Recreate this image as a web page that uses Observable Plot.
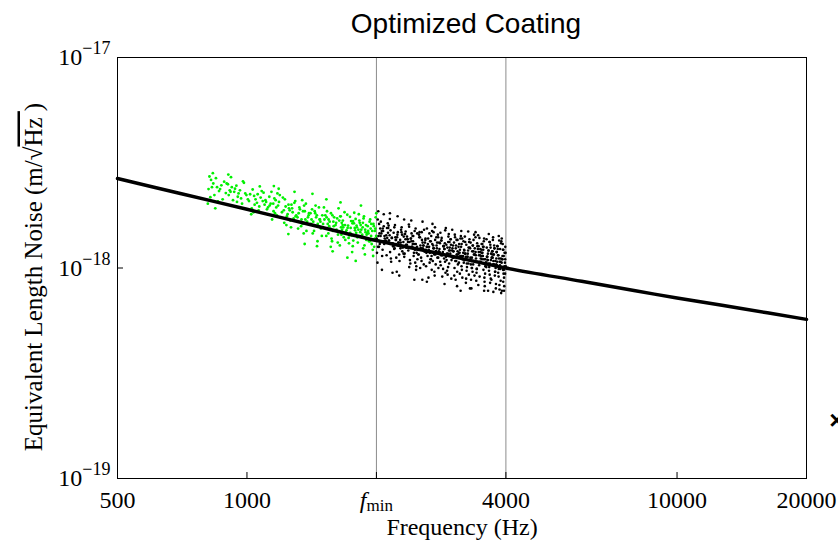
<!DOCTYPE html>
<html><head><meta charset="utf-8">
<script src="https://cdn.jsdelivr.net/npm/d3@7"></script>
<script src="https://cdn.jsdelivr.net/npm/@observablehq/plot@0.6"></script>
<style>body{margin:0;background:#fff}</style>
</head><body><div id="chart"></div>
<script>
// ---- data (noise values in units of 1e-18 m/sqrt(Hz)) ----
const title = "Optimized Coating";
const xLabel = "Frequency (Hz)";
const xTicks = [500, 1000, 2000, 4000, 10000, 20000];
const xTickLabels = ["500", "1000", "fmin", "4000", "10000", "20000"];
const yTicks = [1e-19, 1e-18, 1e-17];
const yExponents = ["−19", "−18", "−17"];
const markerLines = [2000, 4000];

const curveFreq  = [500, 700, 1000, 1400, 2000, 2800, 4000, 6000, 8000, 10000, 14000, 20000];
const curveNoise = [2.66, 2.26, 1.90, 1.61, 1.35, 1.17, 1.00, 0.865, 0.78, 0.72, 0.644, 0.57];

const greenPts = [
[814,2.37],[835,2.52],[822,2.17],[861,2.32],[847,2.67],[818,2.72],[893,2.27],[856,2.07],[829,2.42],[872,2.47],[840,2.22],[885,2.57],[811,2.02],[866,2.37],[833,2.82],[897,2.52],[852,2.42],[878,2.12],[825,2.62],[844,1.92],
[907,2.22],[963,2.34],[928,2.10],[991,2.26],[945,2.46],[916,2.30],[974,2.02],[938,2.38],[952,2.18],[984,2.54],[922,2.42],[959,1.94],[903,2.50],[969,2.14],[934,2.30],[997,2.22],[948,2.06],[912,2.34],[979,2.58],[956,2.26],
[1005,2.12],[1042,2.00],[1017,2.24],[1088,2.08],[1064,1.88],[1031,2.36],[1076,2.16],[1023,1.80],[1055,2.04],[1093,2.28],[1039,2.20],[1068,1.96],[1011,2.08],[1082,2.32],[1047,2.12],[1026,1.92],[1059,2.24],[1099,2.00],[1071,2.44],[1036,1.84],
[1108,2.06],[1153,1.86],[1127,2.18],[1181,1.98],[1144,1.70],[1166,2.10],[1119,1.94],[1192,2.22],[1135,2.02],[1174,1.78],[1158,2.14],[1113,1.90],[1187,2.06],[1140,2.30],[1162,1.82],[1129,1.98],[1196,1.74],[1151,2.02],[1177,2.26],[1104,2.10],[1170,1.94],
[1206,1.84],[1249,2.00],[1221,1.64],[1273,1.92],[1238,1.76],[1295,2.08],[1257,1.88],[1212,2.16],[1284,1.72],[1230,1.96],[1266,1.56],[1243,1.80],[1289,2.04],[1218,1.88],[1261,1.68],[1277,1.84],[1225,2.12],[1252,1.92],[1298,1.76],[1235,1.60],[1269,2.00],
[1302,1.78],[1347,1.62],[1324,1.94],[1386,1.74],[1363,1.86],[1315,1.54],[1371,2.02],[1339,1.70],[1394,1.82],[1355,1.46],[1328,1.90],[1380,1.66],[1311,1.74],[1358,1.98],[1336,1.58],[1391,1.78],[1344,2.10],[1375,1.50],[1319,1.82],[1367,1.70],[1350,1.86],
[1409,1.62],[1454,1.78],[1432,1.50],[1478,1.70],[1417,1.90],[1465,1.58],[1441,1.82],[1493,1.42],[1426,1.66],[1470,1.94],[1448,1.74],[1485,1.54],[1413,1.70],[1459,1.34],[1437,1.86],[1482,1.66],[1422,1.46],[1497,1.78],[1461,1.62],[1444,1.98],[1475,1.70],[1405,1.82],
[1503,1.62],[1546,1.46],[1521,1.78],[1588,1.66],[1562,1.54],[1535,1.86],[1577,1.34],[1514,1.70],[1553,1.58],[1595,1.74],[1529,1.42],[1568,1.82],[1541,1.62],[1584,1.50],[1510,1.94],[1557,1.66],[1573,1.38],[1532,1.74],[1591,1.58],[1548,1.70],[1566,1.26],[1524,1.54],[1580,1.78],
[1607,1.60],[1652,1.76],[1628,1.44],[1674,1.56],[1639,1.68],[1693,1.36],[1661,1.64],[1615,1.52],[1686,1.84],[1644,1.28],[1669,1.60],[1621,1.72],[1697,1.48],[1655,1.56],[1633,1.92],[1679,1.40],[1612,1.64],[1664,1.52],[1648,1.76],[1690,1.60],[1626,1.32],[1671,1.68],[1658,1.44],
[1704,1.51],[1747,1.67],[1723,1.39],[1781,1.55],[1762,1.27],[1736,1.75],[1795,1.47],[1718,1.59],[1756,1.19],[1773,1.63],[1730,1.43],[1789,1.71],[1742,1.55],[1767,1.35],[1711,1.79],[1784,1.51],[1727,1.31],[1759,1.63],[1798,1.59],[1738,1.47],[1776,1.83],[1751,1.43],[1714,1.55],[1765,1.67],
[1802,1.56],[1849,1.40],[1825,1.68],[1887,1.48],[1863,1.24],[1838,1.60],[1894,1.36],[1816,1.52],[1871,1.76],[1853,1.44],[1829,1.64],[1880,1.16],[1844,1.52],[1867,1.72],[1810,1.32],[1891,1.60],[1834,1.48],[1876,1.28],[1858,1.56],[1820,1.80],[1898,1.44],[1841,1.98],[1883,1.52],[1806,1.40],[1860,1.64],
[1905,1.46],[1946,1.62],[1922,1.34],[1988,1.54],[1961,1.22],[1934,1.70],[1997,1.42],[1913,1.50],[1972,1.58],[1950,1.30],[1928,1.66],[1983,1.38],[1939,1.54],[1965,1.14],[1917,1.46],[1992,1.74],[1956,1.50],[1976,1.26],[1909,1.58],[1944,1.42],[1999,1.82],[1968,1.62],[1931,1.34],[1984,1.50],
[905,2.78],[918,2.70],[1155,2.45],[1185,2.38],[1290,2.30],[1420,2.25],[1530,2.12],[1650,2.05],
[1248,1.45],[1362,1.30],[1455,1.27],[1582,1.20],[1712,1.12],[1790,1.08]
];

const blackPts = [
[2003,1.38],[2041,1.54],[2017,1.26],[2088,1.42],[2062,1.14],[2029,1.62],[2095,1.34],[2054,1.46],[2011,1.06],[2073,1.50],[2036,1.30],[2080,1.58],[2022,1.42],[2067,1.22],[2048,1.66],[2091,1.38],[2006,1.18],[2058,1.50],[2033,1.46],[2076,1.34],[2014,1.70],[2085,1.30],[2045,1.42],[2069,1.54],[2027,1.26],
[2108,1.43],[2152,1.19],[2131,1.55],[2177,1.31],[2119,1.39],[2164,1.07],[2193,1.47],[2140,1.35],[2125,1.63],[2186,1.27],[2157,1.51],[2112,1.15],[2170,1.39],[2146,1.43],[2199,1.23],[2135,1.59],[2181,1.31],[2102,1.35],[2161,1.11],[2128,1.47],[2174,1.39],[2116,1.55],[2190,1.27],[2149,1.71],[2137,1.35],
[2205,1.24],[2238,1.44],[2271,1.36],[2224,1.12],[2289,1.56],[2256,1.32],[2213,1.40],[2297,1.20],[2243,1.48],[2266,1.28],[2230,0.96],[2282,1.52],[2218,1.36],[2259,1.16],[2294,1.44],[2247,1.32],[2209,1.60],[2275,1.24],[2234,1.40],[2263,1.08],[2221,1.36],[2287,1.48],[2251,1.28],[2201,1.56],[2278,1.32],
[2310,1.33],[2347,1.25],[2383,1.57],[2326,1.17],[2365,1.37],[2332,1.45],[2398,1.05],[2354,1.29],[2315,1.41],[2372,1.21],[2339,1.49],[2387,1.33],[2321,1.13],[2360,1.37],[2304,1.25],[2379,1.61],[2343,1.29],[2393,1.09],[2328,1.45],[2368,1.33],[2312,1.17],[2356,1.41],[2384,1.01],[2336,1.37],[2350,1.25],
[2403,1.38],[2441,1.14],[2417,1.26],[2488,1.46],[2462,1.06],[2429,1.30],[2495,1.22],[2454,1.50],[2411,1.34],[2473,0.98],[2436,1.42],[2480,1.18],[2422,1.26],[2467,1.54],[2448,1.30],[2491,1.10],[2406,1.38],[2458,1.22],[2433,1.34],[2476,1.02],[2414,1.46],[2485,1.26],[2445,1.18],[2469,1.30],[2427,1.42],
[2508,1.16],[2552,1.36],[2531,1.28],[2577,1.04],[2519,1.48],[2564,1.24],[2593,1.32],[2540,1.12],[2525,1.40],[2586,1.20],[2557,0.88],[2512,1.44],[2570,1.28],[2546,1.08],[2599,1.36],[2535,1.24],[2581,1.52],[2502,1.16],[2561,1.32],[2528,1.00],[2574,1.28],[2516,1.40],[2590,1.20],[2549,1.48],[2537,1.24],
[2605,1.22],[2638,1.38],[2671,1.10],[2624,1.26],[2689,0.98],[2656,1.46],[2613,1.18],[2697,1.30],[2643,0.90],[2666,1.34],[2630,1.14],[2682,1.42],[2618,1.26],[2659,1.06],[2694,1.50],[2647,1.22],[2609,1.02],[2675,1.34],[2634,1.30],[2663,1.18],[2621,1.54],[2687,1.14],[2651,1.26],[2601,1.38],[2678,1.10],
[2710,1.28],[2747,1.04],[2783,1.40],[2726,1.16],[2765,1.24],[2732,0.92],[2798,1.32],[2754,1.20],[2715,1.48],[2772,1.12],[2739,1.36],[2787,1.00],[2721,1.24],[2760,1.28],[2704,1.08],[2779,1.44],[2743,1.16],[2793,1.20],[2728,0.96],[2768,1.32],[2712,1.24],[2756,1.40],[2784,1.12],[2736,1.56],[2750,1.20],
[2803,1.23],[2841,1.15],[2817,1.47],[2888,1.07],[2862,1.27],[2829,1.35],[2895,0.95],[2854,1.19],[2811,1.31],[2873,1.11],[2836,1.39],[2880,1.23],[2822,1.03],[2867,1.27],[2848,1.15],[2891,1.51],[2806,1.19],[2858,0.99],[2833,1.35],[2876,1.23],[2814,1.07],[2885,1.31],[2845,0.91],[2869,1.27],[2827,1.15],
[2908,1.29],[2952,1.05],[2931,1.17],[2977,1.37],[2919,0.97],[2964,1.21],[2993,1.13],[2940,1.41],[2925,1.25],[2986,0.89],[2957,1.33],[2912,1.09],[2970,1.17],[2946,1.45],[2999,1.21],[2935,1.01],[2981,1.29],[2902,1.13],[2961,1.25],[2928,0.93],[2974,1.37],[2916,1.17],[2990,1.09],[2949,1.21],[2937,1.33],
[3005,1.24],[3038,1.00],[3071,1.36],[3024,1.12],[3089,1.20],[3056,0.88],[3013,1.28],[3097,1.16],[3043,1.44],[3066,1.08],[3030,1.32],[3082,0.96],[3018,1.20],[3059,1.24],[3094,1.04],[3047,1.40],[3009,1.12],[3075,1.16],[3034,0.92],[3063,1.28],[3021,1.20],[3087,1.36],[3051,1.08],[3001,1.52],[3078,1.16],
[3110,1.06],[3147,1.26],[3183,1.18],[3126,0.94],[3165,1.38],[3132,1.14],[3198,1.22],[3154,1.02],[3115,1.30],[3172,1.10],[3139,0.78],[3187,1.34],[3121,1.18],[3160,0.98],[3104,1.26],[3179,1.14],[3143,1.42],[3193,1.06],[3128,1.22],[3168,0.90],[3112,1.18],[3156,1.30],[3184,1.10],[3136,1.38],[3150,1.14],
[3203,1.21],[3241,0.97],[3217,1.33],[3288,1.09],[3262,1.17],[3229,0.85],[3295,1.25],[3254,1.13],[3211,1.41],[3273,1.05],[3236,1.29],[3280,0.93],[3222,1.17],[3267,1.21],[3248,1.01],[3291,1.37],[3206,1.09],[3258,1.13],[3233,0.89],[3276,1.25],[3214,1.17],[3285,1.33],[3245,1.05],[3269,1.49],[3227,1.13],
[3308,1.12],[3352,1.28],[3331,1.00],[3377,1.16],[3319,0.88],[3364,1.36],[3393,1.08],[3340,1.20],[3325,0.80],[3386,1.24],[3357,1.04],[3312,1.32],[3370,1.16],[3346,0.96],[3399,1.40],[3335,1.12],[3381,0.92],[3302,1.24],[3361,1.20],[3328,1.08],[3374,1.44],[3316,1.04],[3390,1.16],[3349,1.28],[3337,1.00],
[3405,1.15],[3438,1.07],[3471,1.39],[3424,0.99],[3489,1.19],[3456,1.27],[3413,0.87],[3497,1.11],[3443,1.23],[3466,1.03],[3430,1.31],[3482,1.15],[3418,0.95],[3459,1.19],[3494,1.07],[3447,1.43],[3409,1.11],[3475,0.91],[3434,1.27],[3463,1.15],[3421,0.99],[3487,1.23],[3451,0.83],[3401,1.19],[3478,1.07],
[3510,1.22],[3547,0.98],[3583,1.10],[3526,1.30],[3565,0.90],[3532,1.14],[3598,1.06],[3554,1.34],[3515,1.18],[3572,0.82],[3539,1.26],[3587,1.02],[3521,1.10],[3560,1.38],[3504,1.14],[3579,0.94],[3543,1.22],[3593,1.06],[3528,1.18],[3568,0.86],[3512,1.30],[3556,1.10],[3584,1.02],[3536,1.14],[3550,1.26],
[3603,1.01],[3641,1.21],[3617,1.13],[3688,0.89],[3662,1.33],[3629,1.09],[3695,1.17],[3654,0.97],[3611,1.25],[3673,1.05],[3636,0.78],[3680,1.29],[3622,1.13],[3667,0.93],[3648,1.21],[3691,1.09],[3606,1.37],[3658,1.01],[3633,1.17],[3676,0.85],[3614,1.13],[3685,1.25],[3645,1.05],[3669,1.33],[3627,1.09],
[3708,1.12],[3752,1.04],[3731,1.36],[3777,0.96],[3719,1.16],[3764,1.24],[3793,0.84],[3740,1.08],[3725,1.20],[3786,1.00],[3757,1.28],[3712,1.12],[3770,0.92],[3746,1.16],[3799,1.04],[3735,1.40],[3781,1.08],[3702,0.88],[3761,1.24],[3728,1.12],[3774,0.96],[3716,1.20],[3790,0.80],[3749,1.16],[3737,1.04],
[3805,1.19],[3838,0.95],[3871,1.07],[3824,1.27],[3889,0.87],[3856,1.11],[3813,1.03],[3897,1.31],[3843,1.15],[3866,0.79],[3830,1.23],[3882,0.99],[3818,1.07],[3859,1.35],[3894,1.11],[3847,0.91],[3809,1.19],[3875,1.03],[3834,1.15],[3863,0.83],[3821,1.27],[3887,1.07],[3851,0.99],[3801,1.11],[3878,1.23],
[3910,1.06],[3947,1.22],[3983,0.94],[3926,1.10],[3965,0.82],[3932,1.30],[3998,1.02],[3954,1.14],[3915,0.78],[3972,1.18],[3939,0.98],[3987,1.26],[3921,1.10],[3960,0.90],[3904,1.34],[3979,1.06],[3943,0.86],[3993,1.18],[3928,1.14],[3968,1.02],[3912,1.38],[3956,0.98],[3984,1.10],[3936,1.22],[3950,0.94],
[2020,1.86],[2080,1.80],[2150,1.82],[2240,1.76],[2320,1.70],[2410,1.68],[2560,1.66],[2700,1.62],[2900,1.55],[3150,1.50],[3400,1.48],[3650,1.45],[3850,1.42],
[2060,0.98],[2180,0.95],[2260,0.92],[2450,0.88],[2620,0.86],[2880,0.84],[3080,0.82],[3300,0.80],[3560,0.78],[3740,0.77],[3900,0.76],[3960,0.78]
];

// ---- build tables ----
const unit = 1e-18;
const curve = curveFreq.map((f, i) => ({f, v: curveNoise[i] * unit}));
const green = greenPts.map(([f, v]) => ({f, v: v * unit}));
const black = blackPts.map(([f, v]) => ({f, v: v * unit}));

const serif = "'Liberation Serif', 'Times New Roman', serif";
const sans = "'Liberation Sans', Arial, Helvetica, sans-serif";

const plot = Plot.plot({
  width: 838, height: 549,
  marginLeft: 117, marginRight: 32, marginTop: 57, marginBottom: 71,
  x: {type: "log", domain: [500, 20000]},
  y: {type: "log", domain: [1e-19, 1e-17]},
  style: {fontFamily: serif, fontSize: "24px", color: "black", background: "white", overflow: "visible"},
  marks: [
    Plot.ruleX(markerLines, {stroke: "#8c8c8c", strokeWidth: 1}),
    Plot.dot(green, {x: "f", y: "v", r: 1.4, fill: "#00f000", stroke: null}),
    Plot.dot(black, {x: "f", y: "v", r: 1.3, fill: "black", stroke: null}),
    Plot.line(curve, {x: "f", y: "v", stroke: "black", strokeWidth: 3.5, curve: "catmull-rom"}),
    Plot.frame({stroke: "black", strokeWidth: 1}),
    Plot.axisX({ticks: xTicks, tickFormat: d => xTickLabels[xTicks.indexOf(d)], tickSize: -6, tickPadding: 18, label: null, fontSize: 24}),
    Plot.axisY({ticks: yTicks, tickFormat: d => "10^" + yExponents[yTicks.indexOf(d)], tickSize: -6, tickPadding: 13, label: null, fontSize: 24}),
    Plot.text([xLabel], {frameAnchor: "bottom", dy: 49, lineAnchor: "middle", fontSize: 24, fontFamily: serif}),
    Plot.text(["Y"], {frameAnchor: "left", dx: -84, dy: 9, rotate: -90, textAnchor: "middle", lineAnchor: "middle", fontSize: 25, fontFamily: serif, className: "ylab"}),
    Plot.text([title], {frameAnchor: "top", dx: 4, dy: -33, lineAnchor: "middle", fontSize: 28, fontFamily: sans}),
    Plot.text(["×"], {frameAnchor: "bottom-right", dx: 38, dy: -58, lineAnchor: "middle", fontSize: 26, fontWeight: "bold", fontFamily: sans})
  ]
});
document.getElementById("chart").appendChild(plot);

const NS = "http://www.w3.org/2000/svg";
function ts(parent, txt, attrs) {
  const t = document.createElementNS(NS, "tspan");
  t.textContent = txt;
  for (const k in attrs) t.setAttribute(k, attrs[k]);
  parent.appendChild(t);
  return t;
}
plot.querySelectorAll('g[aria-label="y-axis tick label"] text').forEach(t => {
  const s = t.textContent;
  if (!s.includes("^")) return;
  const [b, e] = s.split("^");
  t.textContent = "";
  ts(t, b, {});
  ts(t, e, {"font-size": "18", dy: "-0.6em"});
});
plot.querySelectorAll('g[aria-label="x-axis tick label"] text').forEach(t => {
  if (t.textContent !== "fmin") return;
  t.textContent = "";
  ts(t, "f", {"font-style": "italic"});
  ts(t, "min", {"font-size": "17", dy: "0.2em"});
});
plot.querySelectorAll('g.ylab text, [class*="ylab"] text').forEach(t => {
  t.textContent = "";
  ts(t, "Equivalent Length Noise (m/√", {});
  ts(t, "Hz ", {style: "text-decoration: overline"});
  ts(t, ")", {});
});
</script>
</body></html>
